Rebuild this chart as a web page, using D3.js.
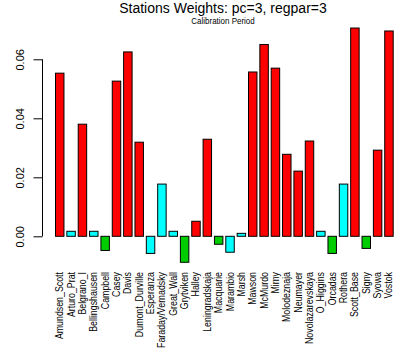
<!DOCTYPE html>
<html><head><meta charset="utf-8">
<script src="https://cdn.jsdelivr.net/npm/d3@7"></script>
<style>body{margin:0;background:#fff}svg{display:block}</style>
</head><body>
<svg id="c" width="420" height="360"></svg>
<script>
const stations = ["Amundsen_Scott","Arturo_Prat","Belgrano_I","Bellingshausen","Campbell","Casey","Davis","Dumont_Durville","Esperanza","Faraday/Vernadsky","Great_Wall","Grytviken","Halley","Leningradskaja","Macquarie","Marambio","Marsh","Mawson","McMurdo","Mirny","Molodeznaja","Neumayer","Novolazarevskaya","O_Higgins","Orcadas","Rothera","Scott_Base","Signy","Syowa","Vostok"];
const weights = [0.0553,0.0017,0.0380,0.0017,-0.0048,0.0526,0.0625,0.0319,-0.0058,0.0177,0.0017,-0.0088,0.0051,0.0329,-0.0027,-0.0054,0.0010,0.0557,0.0650,0.0570,0.0278,0.0221,0.0323,0.0017,-0.0058,0.0177,0.0706,-0.0041,0.0292,0.0696];
const groups = ["east","pen","east","pen","sub","east","east","east","pen","pen","pen","sub","east","east","sub","pen","pen","east","east","east","east","east","east","pen","sub","pen","east","sub","east","east"];
const groupColors = {east:"#ff0000", pen:"#00ffff", sub:"#00cd00"};
const yTicks = [0, 0.02, 0.04, 0.06];
const yTickLabels = ["0.00","0.02","0.04","0.06"];
const title = "Stations Weights: pc=3, regpar=3";
const subtitle = "Calibration Period";

const svg = d3.select("#c");
const x = d3.scaleBand().domain(stations).range([54.06, 394.64]).paddingInner(1/6).paddingOuter(1/12);
const y = d3.scaleLinear().domain([0, 0.06]).range([236.3, 59.3]);

svg.append("g").selectAll("rect").data(stations).join("rect")
  .attr("x", d => x(d) + 0.5)
  .attr("width", x.bandwidth() - 1)
  .attr("y", (d,i) => y(Math.max(0, weights[i])))
  .attr("height", (d,i) => Math.abs(y(weights[i]) - y(0)))
  .attr("fill", (d,i) => groupColors[groups[i]])
  .attr("stroke", "#000").attr("stroke-width", 1);

// y axis
const yAxis = d3.axisLeft(y).tickValues(yTicks).tickFormat((d,i) => yTickLabels[i]).tickSize(9).tickPadding(4);
const ga = svg.append("g").attr("transform", "translate(42.5,0)").call(yAxis);
ga.select(".domain").attr("d", `M0,${y(0.06)}V${y(0)}`).attr("stroke","#000");
ga.selectAll(".tick line").attr("stroke","#000");
ga.selectAll(".tick text")
  .attr("font-family","Liberation Sans, Arial, sans-serif").attr("font-size", 11).attr("fill","#000")
  .attr("text-anchor","middle")
  .attr("transform", "rotate(-90)").attr("x", 0).attr("y", -22).attr("dy", "0.35em");

// x labels
const gx = svg.append("g");
gx.selectAll("text").data(stations).join("text")
  .attr("transform", d => `translate(${x(d) + x.bandwidth()/2 + 3.5},272) rotate(-90) scale(0.84,1)`)
  .attr("text-anchor","end")
  .attr("font-family","Liberation Sans, Arial, sans-serif")
  .attr("font-size", 10.5).attr("fill","#000")
  .text(d => d);

svg.append("text").attr("x", 223).attr("y", 13).attr("text-anchor","middle")
  .attr("font-family","Liberation Sans, Arial, sans-serif").attr("font-size", 14).attr("fill","#000").text(title);
svg.append("text").attr("transform","translate(223,24) scale(0.84,1)").attr("text-anchor","middle")
  .attr("font-family","Liberation Sans, Arial, sans-serif").attr("font-size", 9.5).attr("fill","#000").text(subtitle);
</script>
</body></html>
